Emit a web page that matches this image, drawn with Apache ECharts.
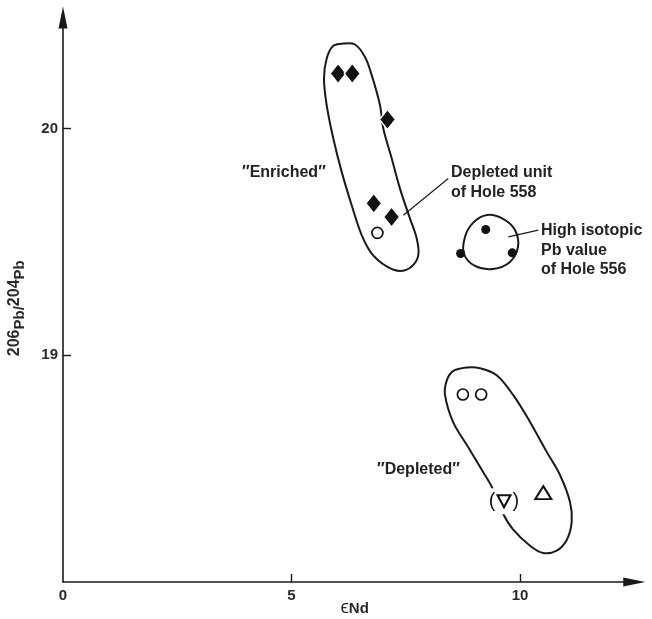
<!DOCTYPE html>
<html><head><meta charset="utf-8">
<script src="https://cdn.jsdelivr.net/npm/echarts@6/dist/echarts.min.js"></script>
<style>html,body{margin:0;padding:0;background:#fff}#c{width:652px;height:619px}</style>
</head><body><div id="c"></div>
<script>
// ---- axis ticks / labels ----
const xTickValues = [5, 10];
const xLabelValues = [0, 5, 10];
const yTickValues = [19, 20];
const yLabelValues = [19, 20];

// ---- data points [εNd, 206Pb/204Pb] ----
const enrichedDiamonds = [[6.02, 20.243], [6.33, 20.243], [7.10, 20.04], [6.80, 19.67], [7.19, 19.61]];
const enrichedOpenCircle = [[6.88, 19.54]];
const hole556Dots = [[9.25, 19.555], [8.70, 19.449], [9.83, 19.452]];
const depletedOpenCircles = [[8.75, 18.827], [9.15, 18.827]];
const depletedDownTriangle = [[9.65, 18.356]];
const depletedUpTriangle = [[10.51, 18.394]];

// ---- hand-drawn enclosures (data coordinates) ----
const enrichedLoop = [[6.134,20.375],[6.389,20.371],[6.608,20.316],[6.755,20.236],[6.937,20.103],[7.009,20.000],
  [7.193,19.868],[7.374,19.735],[7.593,19.603],[7.740,19.515],[7.775,19.442],[7.630,19.392],[7.374,19.372],
  [7.083,19.392],[6.755,19.449],[6.536,19.530],[6.317,19.662],[6.098,19.809],[5.915,19.956],[5.770,20.103],
  [5.711,20.221],[5.770,20.309],[5.915,20.365]];
const hole556Loop = [[9.278,19.619],[9.628,19.602],[9.891,19.553],[9.956,19.478],[9.781,19.412],[9.409,19.381],
  [9.015,19.394],[8.775,19.447],[8.796,19.522],[8.972,19.584]];
const depletedLoop = [[8.834,18.946],[9.125,18.943],[9.490,18.912],[9.853,18.824],[10.219,18.706],[10.584,18.574],
  [10.875,18.472],[11.094,18.353],[11.131,18.265],[11.022,18.185],[10.803,18.138],[10.503,18.128],[10.219,18.160],
  [9.847,18.232],[9.628,18.302],[9.381,18.420],[9.190,18.486],[8.834,18.605],[8.534,18.706],[8.359,18.825],
  [8.396,18.888],[8.534,18.930]];

// ---- leader lines ----
const leader558 = [[7.447, 19.618], [8.431, 19.780]];
const leader556 = [[9.744, 19.522], [10.40, 19.552]];

const INK = '#1a1a1a';
const FONT = '"Liberation Sans", Arial, sans-serif';

function loopSeries(pts) {
  return {
    type: 'custom', coordinateSystem: 'cartesian2d', data: [[9, 19]], silent: true, z: 1,
    renderItem: (params, api) => ({
      type: 'polygon',
      shape: { points: pts.map(p => api.coord(p)), smooth: 0.35 },
      style: { fill: 'none', stroke: INK, lineWidth: 2 }
    })
  };
}

const chart = echarts.init(document.getElementById('c'), null, { renderer: 'canvas' });
chart.setOption({
  backgroundColor: '#fff',
  animation: false,
  grid: { left: 63, right: 17.75, top: 17.5, bottom: 37, containLabel: false, outerBoundsMode: 'none' },
  xAxis: {
    type: 'value', min: 0, max: 12.5, interval: 5,
    axisLine: { show: true, onZero: false, symbol: ['none', 'triangle'], symbolSize: [9, 22], lineStyle: { color: INK, width: 1.6 } },
    axisTick: { show: true, inside: true, length: 8, customValues: xTickValues, lineStyle: { color: INK, width: 1.4 } },
    axisLabel: { customValues: xLabelValues, margin: 6, fontSize: 15, fontWeight: 'bold', color: '#2a2a2a', fontFamily: FONT },
    splitLine: { show: false },
    name: '{e|ϵ}{t|Nd}', nameLocation: 'middle', nameGap: 16, nameMoveOverlap: false,
    nameTextStyle: { padding: [0, 0, 0, 12],
      rich: {
        e: { fontSize: 19, color: '#2a2a2a', fontFamily: FONT, verticalAlign: 'bottom' },
        t: { fontSize: 15, fontWeight: 'bold', color: '#2a2a2a', fontFamily: FONT, verticalAlign: 'bottom', padding: [0, 0, 1, 0] }
      } }
  },
  yAxis: {
    type: 'value', min: 18, max: 20.49, interval: 1,
    axisLine: { show: true, onZero: false, symbol: ['none', 'triangle'], symbolSize: [9, 22], lineStyle: { color: INK, width: 1.6 } },
    axisTick: { show: true, inside: true, length: 8, customValues: yTickValues, lineStyle: { color: INK, width: 1.4 } },
    axisLabel: { customValues: yLabelValues, margin: 5, fontSize: 15, fontWeight: 'bold', color: '#2a2a2a', fontFamily: FONT },
    splitLine: { show: false },
    name: '{n|206}{p|Pb/}{n|204}{p|Pb}', nameLocation: 'middle', nameRotate: 90, nameGap: 36,
    nameTextStyle: {
      padding: [0, 17, 0, 0],
      rich: {
        n: { fontSize: 16, fontWeight: 'bold', color: '#2a2a2a', fontFamily: FONT, verticalAlign: 'bottom', padding: [0, 0, 4, 0] },
        p: { fontSize: 15, fontWeight: 'bold', color: '#2a2a2a', fontFamily: FONT, verticalAlign: 'bottom' }
      }
    }
  },
  graphic: [
    { type: 'text', x: 242, y: 173, z: 100, style: { text: '\u2033Enriched\u2033', font: 'bold 16px ' + FONT, fill: '#222', verticalAlign: 'middle' } },
    { type: 'text', x: 451, y: 182.5, z: 100, style: { text: 'Depleted unit\nof Hole 558', font: 'bold 16px ' + FONT, fill: '#222', verticalAlign: 'middle', lineHeight: 19.5 } },
    { type: 'text', x: 541, y: 250.5, z: 100, style: { text: 'High isotopic\nPb value\nof Hole 556', font: 'bold 16px ' + FONT, fill: '#222', verticalAlign: 'middle', lineHeight: 19.5 } },
    { type: 'text', x: 377, y: 470, z: 100, style: { text: '\u2033Depleted\u2033', font: 'bold 16px ' + FONT, fill: '#222', verticalAlign: 'middle' } }
  ],
  series: [
    loopSeries(enrichedLoop),
    loopSeries(hole556Loop),
    loopSeries(depletedLoop),
    { type: 'line', data: leader558, symbol: 'none', z: 2, silent: true, lineStyle: { color: INK, width: 1.2 } },
    { type: 'line', data: leader556, symbol: 'none', z: 2, silent: true, lineStyle: { color: INK, width: 1.2 } },
    // white mask behind the bracketed triangle (breaks the enclosure line)
    { type: 'scatter', data: depletedDownTriangle, symbol: 'rect', symbolSize: [30, 26], z: 3, silent: true,
      itemStyle: { color: '#fff', opacity: 1 } },
    { type: 'scatter', data: enrichedDiamonds, symbol: 'diamond', symbolSize: [16, 20], z: 5,
      itemStyle: { color: '#111', borderColor: '#fff', borderWidth: 1.5, opacity: 1 } },
    { type: 'scatter', data: enrichedOpenCircle.concat(depletedOpenCircles), symbol: 'circle', symbolSize: 11, z: 5,
      itemStyle: { color: '#fff', borderColor: '#111', borderWidth: 1.7, opacity: 1 } },
    { type: 'scatter', data: hole556Dots, symbol: 'circle', symbolSize: 9, z: 5,
      itemStyle: { color: '#111', opacity: 1 } },
    { type: 'scatter', data: depletedUpTriangle, symbol: 'triangle', symbolSize: [16, 13], z: 5,
      itemStyle: { color: '#fff', borderColor: '#111', borderWidth: 2, opacity: 1 } },
    { type: 'scatter', data: depletedDownTriangle, symbol: 'triangle', symbolRotate: 180, symbolSize: [13, 12], z: 5,
      itemStyle: { color: '#fff', borderColor: '#111', borderWidth: 2, opacity: 1 },
      label: { show: true, position: 'inside', formatter: '{p|(}{s|}{p|)}',
        rich: { p: { fontSize: 20, color: '#1a1a1a', fontFamily: FONT }, s: { width: 17 } } } }
  ]
});
</script>
</body></html>
